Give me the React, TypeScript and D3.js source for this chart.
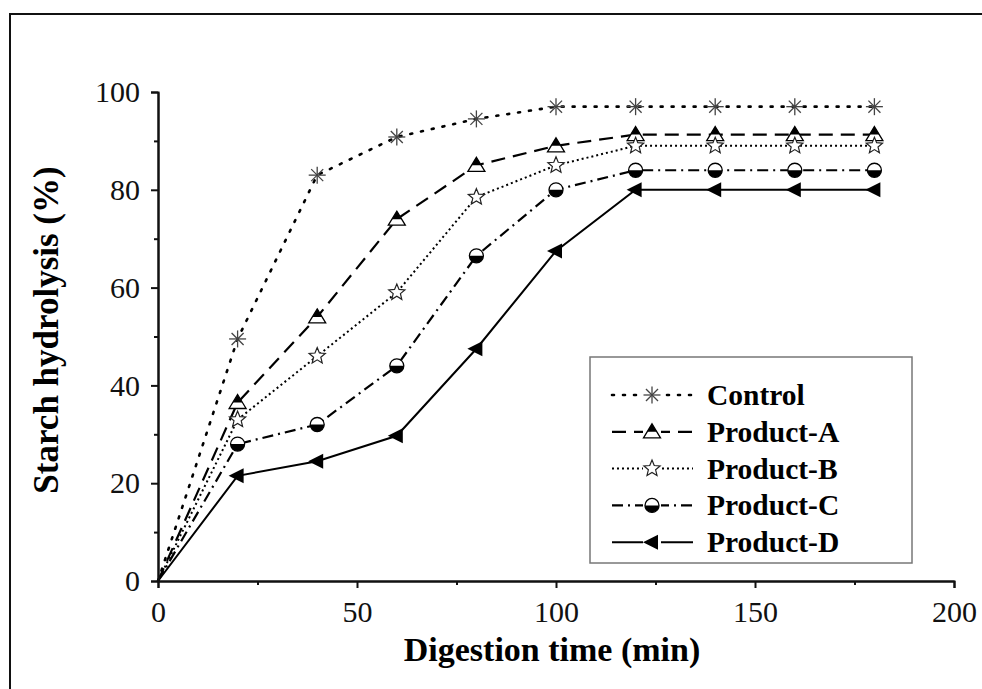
import React, {Component} from 'react';
import * as d3 from "d3"

const times = [0, 20, 40, 60, 80, 100, 120, 140, 160, 180]
const control = [0, 49.5, 83, 90.8, 94.5, 97, 97, 97, 97, 97]
const productA = [0, 36.5, 54, 74, 85, 89, 91.3, 91.3, 91.3, 91.3]
const productB = [0, 33, 46, 59, 78.5, 85, 89, 89, 89, 89]
const productC = [0, 28, 32, 44, 66.5, 80, 84, 84, 84, 84]
const productD = [0, 21.5, 24.5, 29.7, 47.5, 67.5, 80, 80, 80, 80]
const seriesNames = ["Control", "Product-A", "Product-B", "Product-C", "Product-D"]

const xTicks = [0, 50, 100, 150, 200]
const xMinor = [25, 75, 125, 175]
const yTicks = [0, 20, 40, 60, 80, 100]
const yMinor = [10, 30, 50, 70, 90]

const dashes = ["2 9", "14 8", "2 3", "11 5 2 5", null]
const widths = [2.6, 2.2, 2, 2.2, 2]

const font = "'Liberation Serif', 'Times New Roman', serif"

// draws one marker of a given kind at 0,0 into g
function drawMarker(g:any, kind:number){
  if (kind === 0) {
    const r = 8.5
    for (let a = 0; a < 4; a++) {
      const ang = a * Math.PI / 4
      g.append("line")
        .attr("x1", -r * Math.cos(ang)).attr("y1", -r * Math.sin(ang))
        .attr("x2", r * Math.cos(ang)).attr("y2", r * Math.sin(ang))
        .attr("stroke", "#444").attr("stroke-width", 1.3)
    }
  } else if (kind === 1) {
    g.append("path").attr("d", "M0,-8L8.5,6L-8.5,6Z")
      .attr("fill", "#fff").attr("stroke", "#000").attr("stroke-width", 1.3)
    g.append("path").attr("d", "M0,-8L4.8,0L-4.8,0Z").attr("fill", "#000")
  } else if (kind === 2) {
    const pts:string[] = []
    for (let i = 0; i < 10; i++) {
      const rr = i % 2 === 0 ? 8.5 : 3.8
      const ang = -Math.PI / 2 + i * Math.PI / 5
      pts.push(`${rr * Math.cos(ang)},${rr * Math.sin(ang)}`)
    }
    g.append("path").attr("d", "M" + pts.join("L") + "Z")
      .attr("fill", "#fff").attr("stroke", "#222").attr("stroke-width", 1.2)
  } else if (kind === 3) {
    g.append("circle").attr("r", 7)
      .attr("fill", "#fff").attr("stroke", "#000").attr("stroke-width", 1.3)
    g.append("path").attr("d", "M-7,0A7,7 0 0 0 7,0Z").attr("fill", "#000")
  } else {
    g.append("path").attr("d", "M-9,0L6,-7.5L6,7.5Z").attr("fill", "#000")
  }
}

class App extends Component {
    svgRef = React.createRef<SVGSVGElement>()

    renderChart(){
      const svg = d3.select(this.svgRef.current)
      svg.selectAll("*").remove()

      const x = d3.scaleLinear().domain([0, 200]).range([158, 954])
      const y = d3.scaleLinear().domain([0, 100]).range([581, 92])

      // outer frame (only top and left visible)
      svg.append("rect")
        .attr("x", 10).attr("y", 14)
        .attr("width", 1000).attr("height", 700)
        .attr("fill", "none").attr("stroke", "#111").attr("stroke-width", 2)

      const allSeries = [control, productA, productB, productC, productD]
      const line = d3.line<number>()
        .x((d, i) => x(times[i]))
        .y(d => y(d))

      allSeries.forEach((vals, k) => {
        svg.append("path")
          .datum(vals)
          .attr("d", line)
          .attr("fill", "none")
          .attr("stroke", "#000")
          .attr("stroke-width", widths[k])
          .attr("stroke-dasharray", dashes[k])
          .attr("stroke-linecap", k === 0 ? "round" : "butt")
      })
      allSeries.forEach((vals, k) => {
        vals.forEach((v, i) => {
          if (i === 0) return
          const g = svg.append("g").attr("transform", `translate(${x(times[i])},${y(v)})`)
          drawMarker(g, k)
        })
      })

      // axes
      const yAxis = svg.append("g").attr("transform", "translate(158,0)")
        .call(d3.axisLeft(y).tickValues(yTicks).tickSize(7).tickPadding(11).tickFormat(d3.format("d")))
      svg.append("g").attr("transform", "translate(158,0)")
        .call(d3.axisLeft(y).tickValues(yMinor).tickSize(4).tickSizeOuter(0).tickFormat(() => ""))
      const xAxis = svg.append("g").attr("transform", "translate(0,581)")
        .call(d3.axisBottom(x).tickValues(xTicks).tickSize(7).tickPadding(13).tickFormat(d3.format("d")))
      svg.append("g").attr("transform", "translate(0,581)")
        .call(d3.axisBottom(x).tickValues(xMinor).tickSize(4).tickSizeOuter(0).tickFormat(() => ""))

      svg.selectAll(".domain").attr("stroke", "#111").attr("stroke-width", 2)
      svg.selectAll(".tick line").attr("stroke", "#111").attr("stroke-width", 2)
      ;[yAxis, xAxis].forEach(a => a.selectAll("text")
        .attr("font-family", font).attr("font-size", 30).attr("fill", "#111"))

      svg.append("text")
        .attr("x", 552).attr("y", 661)
        .attr("text-anchor", "middle")
        .attr("font-family", font).attr("font-weight", "bold").attr("font-size", 34)
        .text("Digestion time (min)")
      svg.append("text")
        .attr("transform", "translate(58,330) rotate(-90)")
        .attr("text-anchor", "middle")
        .attr("font-family", font).attr("font-weight", "bold").attr("font-size", 35)
        .text("Starch hydrolysis (%)")

      // legend
      svg.append("rect")
        .attr("x", 590).attr("y", 357).attr("width", 322).attr("height", 206)
        .attr("fill", "#fff").attr("stroke", "#777").attr("stroke-width", 1.5)
      seriesNames.forEach((name, k) => {
        const ly = 395 + k * 36.8
        svg.append("line")
          .attr("x1", 612).attr("x2", 693).attr("y1", ly).attr("y2", ly)
          .attr("stroke", "#000").attr("stroke-width", widths[k])
          .attr("stroke-dasharray", dashes[k])
          .attr("stroke-linecap", k === 0 ? "round" : "butt")
        const g = svg.append("g").attr("transform", `translate(652,${ly})`)
        g.append("rect").attr("x", -9).attr("y", -9).attr("width", 18).attr("height", 18).attr("fill", "#fff")
        drawMarker(g, k)
        svg.append("text")
          .attr("x", 707).attr("y", ly + 10)
          .attr("font-family", font).attr("font-weight", "bold").attr("font-size", 29.5)
          .text(name)
      })
    }

    componentDidMount(){
      this.renderChart()
    }

    public render() : JSX.Element {
        return (
            <svg
              ref={this.svgRef}
              width={982}
              height={689}
              style={{position: "absolute", left: 0, top: 0, background: "#fff"}}
            />
       )
    }
}
export default App;
